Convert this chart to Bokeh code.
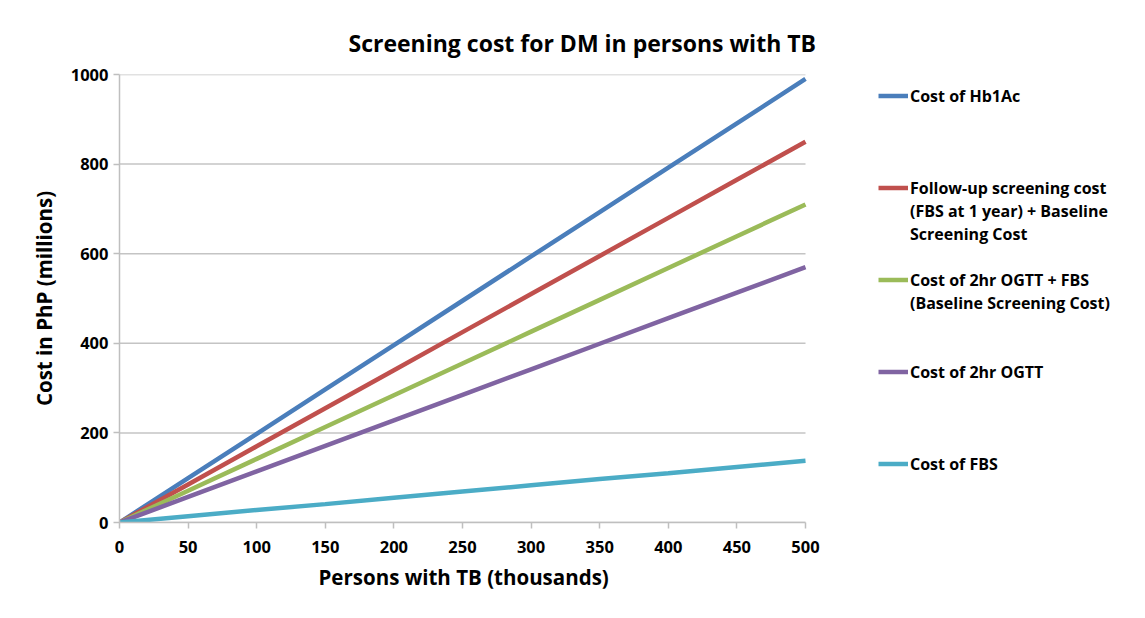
from bokeh.plotting import figure
from bokeh.models import Legend, LegendItem, FixedTicker, Range1d, Title
from bokeh.embed import file_html
from bokeh.resources import INLINE

# ---- data ----
persons_thousands = [0, 50, 100, 150, 200, 250, 300, 350, 400, 450, 500]
cost_hb1ac = [0, 99, 198, 297, 396, 495, 594, 693, 792, 891, 990]
cost_followup = [0, 85, 170, 255, 340, 425, 510, 595, 680, 765, 850]
cost_ogtt_fbs = [0, 71, 142, 213, 284, 355, 426, 497, 568, 639, 710]
cost_ogtt = [0, 57, 114, 171, 228, 285, 342, 399, 456, 513, 570]
cost_fbs = [0, 14, 28, 41, 55, 69, 83, 97, 110, 124, 138]

series_labels = [
    ["Cost of Hb1Ac"],
    ["Follow-up screening cost", "(FBS at 1 year) + Baseline", "Screening Cost"],
    ["Cost of 2hr OGTT + FBS", "(Baseline Screening Cost)"],
    ["Cost of 2hr OGTT"],
    ["Cost of FBS"],
]
series_values = [cost_hb1ac, cost_followup, cost_ogtt_fbs, cost_ogtt, cost_fbs]
colors = ["#4a7ebb", "#c0504d", "#9bbb59", "#8064a2", "#4bacc6"]
# legend row (in text lines) where each series' entry starts
legend_rows = [0, 4, 8, 12, 16]

x_ticks = [0, 50, 100, 150, 200, 250, 300, 350, 400, 450, 500]
y_ticks = [0, 200, 400, 600, 800, 1000]

FONT = "Open Sans"

# layout: plot area 686 px wide for x 0..500, frame extended right to hold legend
FRAME_LEFT, FRAME_RIGHT_BORDER, WIDTH = 119, 5, 1129
PLOT_PX = 686
frame_w = WIDTH - FRAME_LEFT - FRAME_RIGHT_BORDER
x_end = x_ticks[-1] * frame_w / PLOT_PX

p = figure(
    width=WIDTH, height=602,
    output_backend="svg", toolbar_location=None,
    x_range=Range1d(0, x_end), y_range=Range1d(0, 1000),
    min_border_left=FRAME_LEFT, min_border_right=FRAME_RIGHT_BORDER,
    min_border_top=74, min_border_bottom=80,
)
p.outline_line_color = None
p.background_fill_color = "white"
p.border_fill_color = "white"

# title
p.title.text = "Screening cost for DM in persons with TB"
p.title.align = "left"
p.title.offset = 229
p.title.text_font = FONT
p.title.text_font_style = "bold"
p.title.text_font_size = "23px"
p.title.text_color = "#000000"
p.title.standoff = 32

# axes
for ax in (p.xaxis[0], p.yaxis[0]):
    ax.axis_line_color = "#bfbfbf"
    ax.axis_line_width = 1.5
    ax.major_tick_line_color = "#bfbfbf"
    ax.major_tick_line_width = 1.5
    ax.major_tick_out = 6
    ax.major_tick_in = 0
    ax.minor_tick_line_color = None
    ax.major_label_text_font = FONT
    ax.major_label_text_font_style = "bold"
    ax.major_label_text_font_size = "16.5px"
    ax.major_label_text_color = "#000000"
    ax.axis_label_text_font = FONT
    ax.axis_label_text_font_style = "bold"
    ax.axis_label_text_font_size = "20.5px"
    ax.axis_label_text_color = "#000000"

p.xaxis.ticker = FixedTicker(ticks=x_ticks)
p.yaxis.ticker = FixedTicker(ticks=y_ticks)
p.xaxis.bounds = (x_ticks[0], x_ticks[-1])
p.yaxis.axis_label = "Cost in PhP (millions)"
p.xaxis.major_label_standoff = 12
p.yaxis.major_label_standoff = 5
p.yaxis.axis_label_standoff = 10

# x-axis title, centred under the plotted x extent (0..500)
p.add_layout(Title(
    text="Persons with TB (thousands)", align="left", offset=199,
    text_font=FONT, text_font_style="bold", text_font_size="20.5px",
    text_color="#000000", standoff=11,
), "below")

p.xgrid.grid_line_color = None
p.ygrid.grid_line_color = None

# horizontal gridlines limited to the plotted x extent
n = len(y_ticks)
p.segment(x0=[x_ticks[0]] * n, y0=y_ticks, x1=[x_ticks[-1]] * n, y1=y_ticks,
          line_color="#c4c4c4", line_width=1.5)

# invisible renderer for text-only legend rows
blank = p.line([], [], line_alpha=0)

rows = {}
for lines, vals, col, start in zip(series_labels, series_values, colors, legend_rows):
    r = p.line(persons_thousands, vals, line_color=col, line_width=4.5)
    rows[start] = (lines[0], r)
    for k, t in enumerate(lines[1:], start=1):
        rows[start + k] = (t, blank)

items = []
for i in range(max(legend_rows) + 1):
    label, rend = rows.get(i, (" ", blank))
    items.append(LegendItem(label=label, renderers=[rend]))

legend = Legend(
    items=items, location=(759, 47), orientation="vertical",
    label_height=23, glyph_height=23, glyph_width=30, spacing=0,
    padding=0, margin=0, border_line_color=None, background_fill_alpha=0,
    label_standoff=2, label_text_font=FONT, label_text_font_style="bold",
    label_text_font_size="16px", label_text_color="#000000",
)
p.add_layout(legend)

open("out.html", "w").write(file_html(p, INLINE))
